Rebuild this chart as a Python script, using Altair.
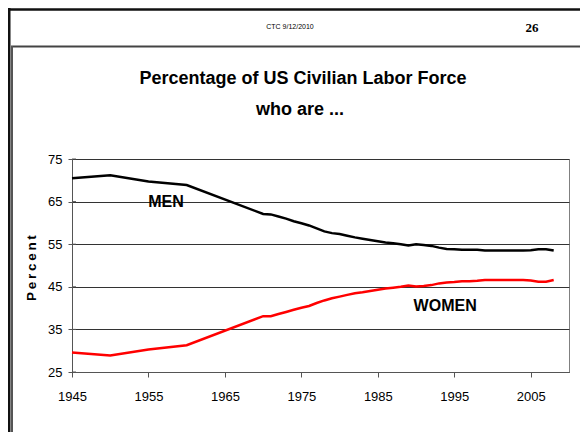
import altair as alt
import pandas as pd

# ---- data ----
years = [1945, 1950, 1955, 1960, 1970, 1971, 1972, 1973, 1974, 1975, 1976, 1977,
         1978, 1979, 1980, 1981, 1982, 1983, 1984, 1985, 1986, 1987, 1988, 1989,
         1990, 1991, 1992, 1993, 1994, 1995, 1996, 1997, 1998, 1999, 2000, 2001,
         2002, 2003, 2004, 2005, 2006, 2007, 2008]
men = [70.5, 71.2, 69.7, 68.9, 62.1, 62.0, 61.5, 61.0, 60.4, 59.9, 59.4, 58.7,
       58.0, 57.6, 57.4, 57.0, 56.6, 56.3, 56.0, 55.7, 55.4, 55.2, 55.0, 54.7,
       55.0, 54.8, 54.6, 54.2, 53.9, 53.8, 53.7, 53.7, 53.7, 53.5, 53.5, 53.5,
       53.5, 53.5, 53.5, 53.6, 53.8, 53.8, 53.5]
women = [29.6, 28.9, 30.3, 31.3, 38.1, 38.1, 38.6, 39.1, 39.6, 40.1, 40.5, 41.2,
         41.8, 42.3, 42.7, 43.1, 43.5, 43.7, 44.0, 44.3, 44.6, 44.8, 45.0, 45.3,
         45.1, 45.2, 45.4, 45.8, 46.0, 46.1, 46.3, 46.3, 46.4, 46.6, 46.6, 46.6,
         46.6, 46.6, 46.6, 46.5, 46.2, 46.2, 46.6]
series_names = ["Men", "Women"]
series_colors = ["#000000", "#ff0000"]
x_ticks = [1945, 1955, 1965, 1975, 1985, 1995, 2005]
y_ticks = [25, 35, 45, 55, 65, 75]
label_text = ["MEN", "WOMEN"]
label_year = [1957.3, 1993.8]
label_value = [64.9, 40.6]

title_lines = ["Percentage of US Civilian Labor Force", "who are ..."]
header_left = "CTC 9/12/2010"
header_right = "26"
y_title = "P\u2009e\u2009r\u2009c\u2009e\u2009n\u2009t"

n = len(years)
df = pd.DataFrame({
    "year": years * 2,
    "percent": men + women,
    "series": [series_names[0]] * n + [series_names[1]] * n,
})
labels_df = pd.DataFrame({"label": label_text, "year": label_year, "percent": label_value})
ticks_df = pd.DataFrame({"percent": y_ticks})
one = pd.DataFrame({"a": [0]})

W, H = 497, 213
FONT = "Liberation Sans"

xs = alt.Scale(domain=[1945, 2010], nice=False, zero=False)
ys = alt.Scale(domain=[25, 75], nice=False, zero=False)

x_enc = alt.X("year:Q", scale=xs,
              axis=alt.Axis(values=x_ticks, format="d", title=None, grid=False,
                            tickSize=5, labelPadding=13, labelFlush=False))
y_enc = alt.Y("percent:Q", scale=ys,
              axis=alt.Axis(values=y_ticks, title=None, grid=True,
                            gridColor="#333333", gridWidth=1,
                            tickSize=4, labelPadding=6))

lines = alt.Chart(df).mark_line(strokeWidth=2.5).encode(
    x=x_enc, y=y_enc,
    color=alt.Color("series:N",
                    scale=alt.Scale(domain=series_names, range=series_colors),
                    legend=None),
)

inner_ticks = alt.Chart(ticks_df).mark_rule(color="#555555", strokeWidth=1).encode(
    y=alt.Y("percent:Q", scale=ys), x=alt.value(0), x2=alt.value(4)
)

labels = alt.Chart(labels_df).mark_text(
    font=FONT, fontSize=16, fontWeight="bold", color="black",
    align="center", baseline="middle"
).encode(x=alt.X("year:Q", scale=xs), y=alt.Y("percent:Q", scale=ys), text="label:N")


def txt(text, x, y, size, weight="normal", font=FONT, angle=None):
    kw = dict(text=text, font=font, fontSize=size, fontWeight=weight,
              color="black", align="center", baseline="middle")
    if angle is not None:
        kw["angle"] = angle
    return alt.Chart(one).mark_text(**kw).encode(x=alt.value(x), y=alt.value(y))


def hrule(x1, x2, y, color, width):
    return alt.Chart(one).mark_rule(color=color, strokeWidth=width).encode(
        x=alt.value(x1), x2=alt.value(x2), y=alt.value(y))


def vrule(x, y1, y2, color, width):
    return alt.Chart(one).mark_rule(color=color, strokeWidth=width).encode(
        x=alt.value(x), y=alt.value(y1), y2=alt.value(y2))


# plot origin is page (72, 159); view spans page x 8..580, y 8..432
frame = [
    hrule(-64, 508, -149.5, "#111111", 2.5),   # top border
    vrule(-63, -151, 273, "#111111", 3),       # outer left border
    hrule(-61, 508, -112.5, "#444444", 2),     # header separator
    vrule(-60, -113, 273, "#555555", 2),       # inner left border
]

texts = [
    txt(header_left, 218, -132, 7),
    txt(header_right, 460, -131, 13, "bold", "Liberation Serif"),
    txt(title_lines[0], 231, -80, 18, "bold"),
    txt(title_lines[1], 228, -49, 18, "bold"),
    txt(y_title, -40, 109, 13.5, "bold", angle=270),
]

chart = alt.layer(*frame, *texts, inner_ticks, lines, labels).properties(
    width=W, height=H,
    padding={"left": 64, "top": 151, "right": 11, "bottom": 60},
    autosize=alt.AutoSizeParams(type="none"),
    background="white",
).configure_view(
    stroke="#808080", strokeWidth=1
).configure_axis(
    domainColor="#555555", tickColor="#555555",
    labelFont=FONT, labelFontSize=13, labelColor="black",
)

chart.save("out.html", embed_options={"renderer": "svg", "actions": False})
